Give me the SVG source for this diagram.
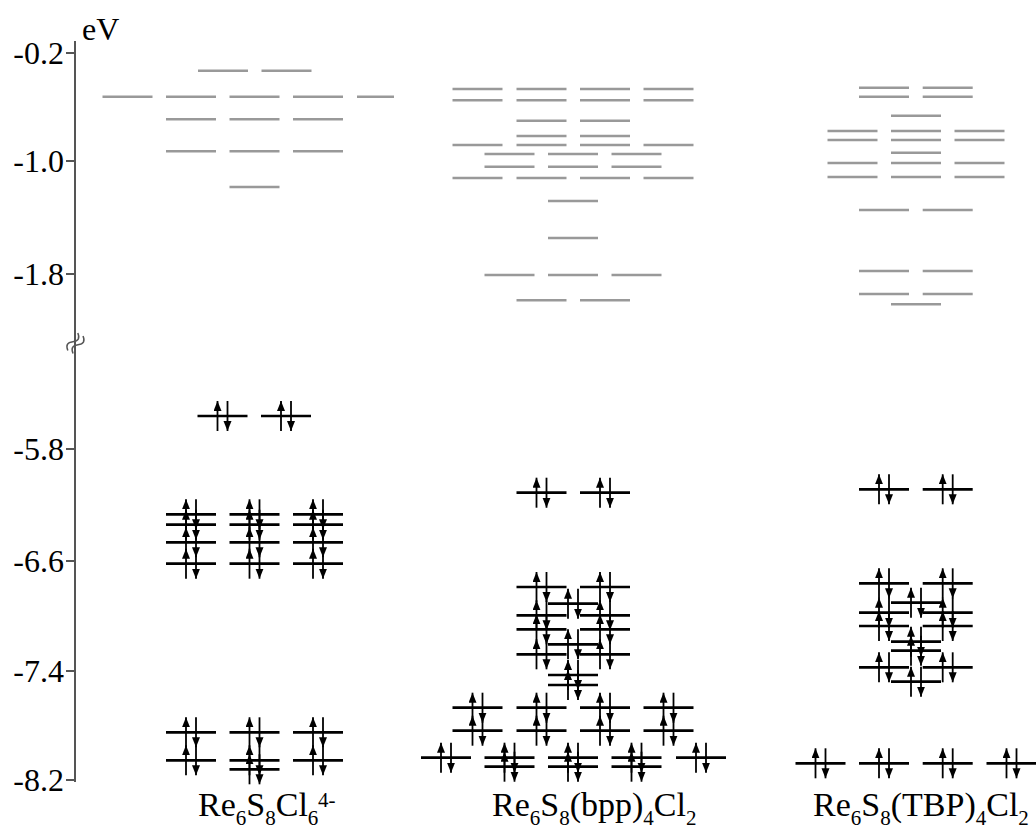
<svg xmlns="http://www.w3.org/2000/svg" xmlns:xlink="http://www.w3.org/1999/xlink" width="1036" height="828" viewBox="0 0 1036 828">
<style>
.ax{stroke:#555;stroke-width:2;fill:none}
.tk{font-family:"Liberation Serif","Times New Roman",serif;font-size:32px;fill:#000;text-anchor:end}
.lb{font-family:"Liberation Serif","Times New Roman",serif;font-size:34px;fill:#000}
.sb{font-size:21px}
.u{stroke:#999;stroke-width:2.5}
.lv{stroke:#000;stroke-width:2.7}
.ar{stroke:#000;stroke-width:1.8;marker-end:url(#ah)}
.brk{stroke:#555;stroke-width:1.5;fill:none}
</style>
<defs>
<marker id="ah" markerUnits="userSpaceOnUse" markerWidth="11" markerHeight="9" refX="10" refY="4" orient="auto" viewBox="0 0 11 9">
<path d="M0,0 L10,4 L0,8 z" fill="#000"/>
</marker>
<g id="occ">
<line x1="0" y1="0" x2="50" y2="0" class="lv"/>
<line x1="20" y1="15" x2="20" y2="-15" class="ar"/>
<line x1="30" y1="-15" x2="30" y2="15" class="ar"/>
</g>
</defs>
<rect width="1036" height="828" fill="#fff"/>
<g id="axis">
<line x1="75" y1="41" x2="75" y2="782" class="ax"/>
<g class="ax">
<line x1="66" y1="53" x2="75" y2="53"/>
<line x1="66" y1="161" x2="75" y2="161"/>
<line x1="66" y1="274" x2="75" y2="274"/>
<line x1="66" y1="449" x2="75" y2="449"/>
<line x1="66" y1="561" x2="75" y2="561"/>
<line x1="66" y1="671" x2="75" y2="671"/>
<line x1="66" y1="780" x2="75" y2="780"/>
</g>
<text class="tk" x="64" y="64">-0.2</text>
<text class="tk" x="64" y="172">-1.0</text>
<text class="tk" x="64" y="285">-1.8</text>
<text class="tk" x="64" y="460">-5.8</text>
<text class="tk" x="64" y="572">-6.6</text>
<text class="tk" x="64" y="682">-7.4</text>
<text class="tk" x="64" y="791">-8.2</text>
<text class="lb" x="82" y="40" style="font-size:32px">eV</text>
<g class="brk" transform="translate(75,343) rotate(-60)">
<path d="M-10,-2.5 C-6.5,-7 -3.5,-7 0,-2.5 S6.5,2 10,-2.5"/>
<path d="M-10,3.5 C-6.5,-1 -3.5,-1 0,3.5 S6.5,8 10,3.5"/>
</g>
</g>
<g id="col1">
<g id="col1-virtual">
<line class="u" x1="198" y1="70.7" x2="248" y2="70.7"/>
<line class="u" x1="261.5" y1="70.7" x2="311.5" y2="70.7"/>
<line class="u" x1="102.5" y1="96.7" x2="152.5" y2="96.7"/>
<line class="u" x1="166" y1="96.7" x2="216" y2="96.7"/>
<line class="u" x1="229.5" y1="96.7" x2="279.5" y2="96.7"/>
<line class="u" x1="293" y1="96.7" x2="343" y2="96.7"/>
<line class="u" x1="357" y1="96.7" x2="394" y2="96.7"/>
<line class="u" x1="166" y1="119.3" x2="216" y2="119.3"/>
<line class="u" x1="229.5" y1="119.3" x2="279.5" y2="119.3"/>
<line class="u" x1="293" y1="119.3" x2="343" y2="119.3"/>
<line class="u" x1="166" y1="151.3" x2="216" y2="151.3"/>
<line class="u" x1="229.5" y1="151.3" x2="279.5" y2="151.3"/>
<line class="u" x1="293" y1="151.3" x2="343" y2="151.3"/>
<line class="u" x1="229.5" y1="187" x2="279.5" y2="187"/>
</g>
<g id="col1-occupied">
<use xlink:href="#occ" x="197.5" y="416"/>
<use xlink:href="#occ" x="261" y="416"/>
<use xlink:href="#occ" x="166" y="514.3"/><use xlink:href="#occ" x="229.5" y="514.3"/><use xlink:href="#occ" x="293" y="514.3"/>
<use xlink:href="#occ" x="166" y="524.7"/><use xlink:href="#occ" x="229.5" y="524.7"/><use xlink:href="#occ" x="293" y="524.7"/>
<use xlink:href="#occ" x="166" y="542.3"/><use xlink:href="#occ" x="229.5" y="542.3"/><use xlink:href="#occ" x="293" y="542.3"/>
<use xlink:href="#occ" x="166" y="563.7"/><use xlink:href="#occ" x="229.5" y="563.7"/><use xlink:href="#occ" x="293" y="563.7"/>
<use xlink:href="#occ" x="166" y="732.3"/><use xlink:href="#occ" x="229.5" y="732.3"/><use xlink:href="#occ" x="293" y="732.3"/>
<use xlink:href="#occ" x="166" y="760.3"/><use xlink:href="#occ" x="229.5" y="760.3"/><use xlink:href="#occ" x="293" y="760.3"/>
<use xlink:href="#occ" x="229.5" y="769.3"/>
</g>
<text class="lb" x="198" y="816">Re<tspan class="sb" dy="9">6</tspan><tspan dy="-9">S</tspan><tspan class="sb" dy="9">8</tspan><tspan dy="-9">Cl</tspan><tspan class="sb" dy="9">6</tspan></text>
<text class="lb sb" x="318" y="807">4-</text>
</g>
<g id="col2">
<g id="col2-virtual">
<line class="u" x1="452.5" y1="89" x2="502.5" y2="89"/><line class="u" x1="516.5" y1="89" x2="566.5" y2="89"/><line class="u" x1="580" y1="89" x2="630" y2="89"/><line class="u" x1="643.5" y1="89" x2="693.5" y2="89"/>
<line class="u" x1="452.5" y1="100.3" x2="502.5" y2="100.3"/><line class="u" x1="516.5" y1="100.3" x2="566.5" y2="100.3"/><line class="u" x1="580" y1="100.3" x2="630" y2="100.3"/><line class="u" x1="643.5" y1="100.3" x2="693.5" y2="100.3"/>
<line class="u" x1="516.5" y1="120.7" x2="566.5" y2="120.7"/><line class="u" x1="580" y1="120.7" x2="630" y2="120.7"/>
<line class="u" x1="516.5" y1="136" x2="566.5" y2="136"/><line class="u" x1="580" y1="136" x2="630" y2="136"/>
<line class="u" x1="452.5" y1="145" x2="502.5" y2="145"/><line class="u" x1="516.5" y1="145" x2="566.5" y2="145"/><line class="u" x1="580" y1="145" x2="630" y2="145"/><line class="u" x1="643.5" y1="145" x2="693.5" y2="145"/>
<line class="u" x1="484.5" y1="154" x2="534.5" y2="154"/><line class="u" x1="548" y1="154" x2="598" y2="154"/><line class="u" x1="611.5" y1="154" x2="661.5" y2="154"/>
<line class="u" x1="484.5" y1="166.7" x2="534.5" y2="166.7"/><line class="u" x1="548" y1="166.7" x2="598" y2="166.7"/><line class="u" x1="611.5" y1="166.7" x2="661.5" y2="166.7"/>
<line class="u" x1="452.5" y1="178" x2="502.5" y2="178"/><line class="u" x1="516.5" y1="178" x2="566.5" y2="178"/><line class="u" x1="580" y1="178" x2="630" y2="178"/><line class="u" x1="643.5" y1="178" x2="693.5" y2="178"/>
<line class="u" x1="548" y1="201" x2="598" y2="201"/>
<line class="u" x1="548" y1="238" x2="598" y2="238"/>
<line class="u" x1="484.5" y1="275" x2="534.5" y2="275"/><line class="u" x1="548" y1="275" x2="598" y2="275"/><line class="u" x1="611.5" y1="275" x2="661.5" y2="275"/>
<line class="u" x1="516.5" y1="300.3" x2="566.5" y2="300.3"/><line class="u" x1="580" y1="300.3" x2="630" y2="300.3"/>
</g>
<g id="col2-occupied">
<use xlink:href="#occ" x="516.5" y="492.7"/><use xlink:href="#occ" x="580" y="492.7"/>
<use xlink:href="#occ" x="516.5" y="587"/><use xlink:href="#occ" x="580" y="587"/>
<use xlink:href="#occ" x="548" y="603.7"/>
<use xlink:href="#occ" x="516.5" y="615.3"/><use xlink:href="#occ" x="580" y="615.3"/>
<use xlink:href="#occ" x="516.5" y="629.3"/><use xlink:href="#occ" x="580" y="629.3"/>
<use xlink:href="#occ" x="548" y="644.3"/>
<use xlink:href="#occ" x="516.5" y="654.3"/><use xlink:href="#occ" x="580" y="654.3"/>
<use xlink:href="#occ" x="548" y="675"/>
<use xlink:href="#occ" x="548" y="685"/>
<use xlink:href="#occ" x="452.5" y="707.7"/><use xlink:href="#occ" x="516.5" y="707.7"/><use xlink:href="#occ" x="580" y="707.7"/><use xlink:href="#occ" x="643.5" y="707.7"/>
<use xlink:href="#occ" x="452.5" y="730.7"/><use xlink:href="#occ" x="516.5" y="730.7"/><use xlink:href="#occ" x="580" y="730.7"/><use xlink:href="#occ" x="643.5" y="730.7"/>
<use xlink:href="#occ" x="421" y="757.7"/><use xlink:href="#occ" x="676" y="757.7"/>
<use xlink:href="#occ" x="484.5" y="757.7"/><use xlink:href="#occ" x="548" y="757.7"/><use xlink:href="#occ" x="611.5" y="757.7"/>
<use xlink:href="#occ" x="484.5" y="766.7"/><use xlink:href="#occ" x="548" y="766.7"/><use xlink:href="#occ" x="611.5" y="766.7"/>
</g>
<text class="lb" x="492" y="816">Re<tspan class="sb" dy="9">6</tspan><tspan dy="-9">S</tspan><tspan class="sb" dy="9">8</tspan><tspan dy="-9">(bpp)</tspan><tspan class="sb" dy="9">4</tspan><tspan dy="-9">Cl</tspan><tspan class="sb" dy="9">2</tspan></text>
</g>
<g id="col3">
<g id="col3-virtual">
<line class="u" x1="859" y1="87.7" x2="909" y2="87.7"/><line class="u" x1="922.7" y1="87.7" x2="972.7" y2="87.7"/>
<line class="u" x1="859" y1="96.7" x2="909" y2="96.7"/><line class="u" x1="922.7" y1="96.7" x2="972.7" y2="96.7"/>
<line class="u" x1="891" y1="115.7" x2="941" y2="115.7"/>
<line class="u" x1="827.5" y1="131" x2="877.5" y2="131"/><line class="u" x1="891" y1="131" x2="941" y2="131"/><line class="u" x1="954.5" y1="131" x2="1004.5" y2="131"/>
<line class="u" x1="827.5" y1="140" x2="877.5" y2="140"/><line class="u" x1="891" y1="140" x2="941" y2="140"/><line class="u" x1="954.5" y1="140" x2="1004.5" y2="140"/>
<line class="u" x1="891" y1="152.7" x2="941" y2="152.7"/>
<line class="u" x1="827.5" y1="163" x2="877.5" y2="163"/><line class="u" x1="891" y1="163" x2="941" y2="163"/><line class="u" x1="954.5" y1="163" x2="1004.5" y2="163"/>
<line class="u" x1="827.5" y1="177" x2="877.5" y2="177"/><line class="u" x1="891" y1="177" x2="941" y2="177"/><line class="u" x1="954.5" y1="177" x2="1004.5" y2="177"/>
<line class="u" x1="859" y1="210" x2="909" y2="210"/><line class="u" x1="922.7" y1="210" x2="972.7" y2="210"/>
<line class="u" x1="859" y1="271" x2="909" y2="271"/><line class="u" x1="922.7" y1="271" x2="972.7" y2="271"/>
<line class="u" x1="859" y1="294" x2="909" y2="294"/><line class="u" x1="922.7" y1="294" x2="972.7" y2="294"/>
<line class="u" x1="891" y1="304.3" x2="941" y2="304.3"/>
</g>
<g id="col3-occupied">
<use xlink:href="#occ" x="859" y="489.3"/><use xlink:href="#occ" x="922.7" y="489.3"/>
<use xlink:href="#occ" x="859" y="583.3"/><use xlink:href="#occ" x="922.7" y="583.3"/>
<use xlink:href="#occ" x="891" y="602.7"/>
<use xlink:href="#occ" x="859" y="612.7"/><use xlink:href="#occ" x="922.7" y="612.7"/>
<use xlink:href="#occ" x="859" y="626"/><use xlink:href="#occ" x="922.7" y="626"/>
<use xlink:href="#occ" x="891" y="641.7"/>
<use xlink:href="#occ" x="891" y="650.7"/>
<use xlink:href="#occ" x="859" y="667.3"/><use xlink:href="#occ" x="922.7" y="667.3"/>
<use xlink:href="#occ" x="891" y="681.7"/>
<use xlink:href="#occ" x="795.5" y="763.3"/><use xlink:href="#occ" x="859" y="763.3"/><use xlink:href="#occ" x="922.7" y="763.3"/><use xlink:href="#occ" x="986.5" y="763.3"/>
</g>
<text class="lb" x="813" y="816">Re<tspan class="sb" dy="9">6</tspan><tspan dy="-9">S</tspan><tspan class="sb" dy="9">8</tspan><tspan dy="-9">(TBP)</tspan><tspan class="sb" dy="9">4</tspan><tspan dy="-9">Cl</tspan><tspan class="sb" dy="9">2</tspan></text>
</g>
</svg>
